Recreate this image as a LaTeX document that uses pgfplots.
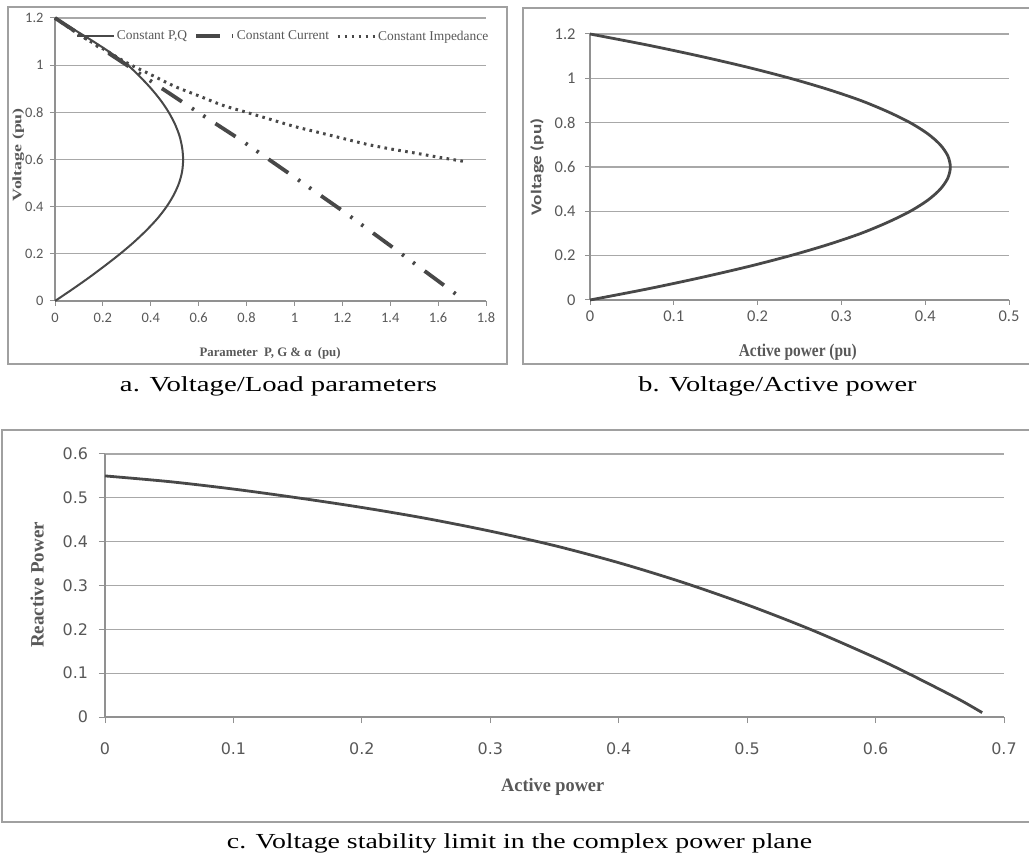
\documentclass[border=0pt]{standalone}
\usepackage{fontspec}
\setmainfont{Liberation Serif}
\newfontfamily\carlito{Carlito}
\newfontfamily\dejavu{DejaVu Sans}
\usepackage{graphicx}
\usepackage{pgfplots}
\pgfplotsset{compat=1.18}
\definecolor{curve}{RGB}{72,72,72}
\definecolor{gridc}{RGB}{168,168,168}
\definecolor{axisc}{RGB}{145,145,145}
\definecolor{tickc}{RGB}{88,88,88}
\definecolor{boxc}{RGB}{160,160,160}
\pgfplotsset{
  excel/.style={
    scale only axis,
    axis lines*=left,
    axis line style={axisc, line width=1.2bp},
    ymajorgrids,
    grid style={gridc, line width=1.3bp},
    major tick style={axisc, line width=1bp},
    tick align=outside,
    major tick length=5bp,
    /pgf/number format/assume math mode=true,
    clip=false,
  }
}
\begin{document}
\begin{tikzpicture}
\path[use as bounding box] (0,0) rectangle (1029bp,855bp);
% boxes
\draw[boxc, line width=1.3bp] (8bp,491bp) rectangle (507bp,848bp);
\draw[boxc, line width=1.3bp] (523bp,491bp) rectangle (1040bp,847bp);
\draw[boxc, line width=1.3bp] (2bp,33bp) rectangle (1040bp,425bp);

% ---------- panel a ----------
\begin{axis}[excel, at={(55bp,554bp)}, anchor=south west,
  width=431bp, height=283bp,
  xmin=0, xmax=1.8, ymin=0, ymax=1.2,
  xtick={0,0.2,0.4,0.6,0.8,1,1.2,1.4,1.6,1.8},
  ytick={0,0.2,0.4,0.6,0.8,1,1.2},
  tick label style={font=\carlito\fontsize{14.5}{16}\selectfont, text=tickc},
  yticklabel style={xshift=-3bp},
  xticklabel style={yshift=-3.5bp},
  label style={font=\bfseries\fontsize{13}{15}\selectfont, text=tickc},
  xlabel={\resizebox{141bp}{\height}{Parameter\ \ P, G \& α\ \ (pu)}},
  ylabel={\resizebox{93bp}{\height}{Voltage (pu)}},
  xlabel style={at={(axis description cs:0.499,-0.184)}, anchor=center},
  ylabel style={at={(axis description cs:-0.085,0.517)}, anchor=center},
  legend columns=3,
  legend style={draw=none, fill=none, at={(axis description cs:0.048,0.936)}, anchor=west,
    font=\fontsize{13.5}{14}\selectfont, text=tickc, inner sep=0pt,
    /tikz/every even column/.append style={column sep=5bp}},
  legend image code/.code={\draw[#1] (0bp,0bp) -- (37bp,0bp);},
]
\addplot[curve, line width=2bp, smooth] coordinates {
(0,0) (0.073,0.05) (0.143,0.1) (0.209,0.15) (0.272,0.2) (0.330,0.25) (0.382,0.3)
(0.428,0.35) (0.466,0.4) (0.496,0.45) (0.518,0.5) (0.531,0.55) (0.535,0.6)
(0.531,0.65) (0.52,0.7) (0.501,0.75) (0.475,0.8) (0.442,0.85) (0.402,0.9)
(0.356,0.95) (0.304,1.0) (0.236,1.05) (0.161,1.1) (0.081,1.15) (0,1.2)};
\addlegendentry{Constant P,Q}
\addplot[curve, line width=3.8bp, dash pattern=on 24bp off 12bp on 2.5bp off 11bp on 2.5bp off 12bp] coordinates {
(0,1.2) (0.3,1.0) (0.56,0.825) (0.78,0.68) (1.0,0.525) (1.2,0.383) (1.4,0.235) (1.68,0.025)};
\addlegendentry{Constant Current}
\addplot[curve, line width=3bp, dash pattern=on 2.6bp off 4.4bp, smooth] coordinates {
(0,1.2) (0.1,1.13) (0.2,1.07) (0.3,1.01) (0.4,0.96) (0.5,0.91) (0.6,0.87)
(0.7,0.83) (0.8,0.80) (0.9,0.77) (1.0,0.74) (1.1,0.715) (1.2,0.69) (1.3,0.665)
(1.4,0.645) (1.5,0.628) (1.6,0.61) (1.72,0.59)};
\addlegendentry{Constant Impedance}
\end{axis}

% ---------- panel b ----------
\begin{axis}[excel, at={(590bp,555bp)}, anchor=south west,
  width=419bp, height=266bp,
  xmin=0, xmax=0.5, ymin=0, ymax=1.2,
  xtick={0,0.1,0.2,0.3,0.4,0.5},
  ytick={0,0.2,0.4,0.6,0.8,1,1.2},
  tick label style={font=\carlito\fontsize{16.5}{18}\selectfont, text=tickc},
  yticklabel style={xshift=-6bp},
  xticklabel style={yshift=-2.5bp},
  xlabel={\resizebox{118bp}{\height}{\bfseries\fontsize{18}{20}\selectfont Active power (pu)}},
  ylabel={\resizebox{97bp}{\height}{\carlito\bfseries\fontsize{15}{17}\selectfont Voltage (pu)}},
  label style={text=tickc},
  xlabel style={at={(axis description cs:0.496,-0.195)}, anchor=center},
  ylabel style={at={(axis description cs:-0.126,0.5)}, anchor=center},
]
\addplot[curve, line width=2.8bp, smooth] coordinates {
(0,0) (0.0687,0.05) (0.131,0.1) (0.188,0.15) (0.239,0.2) (0.284,0.25) (0.323,0.3)
(0.355,0.35) (0.382,0.4) (0.403,0.45) (0.418,0.5) (0.427,0.55) (0.430,0.6)
(0.427,0.65) (0.418,0.7) (0.403,0.75) (0.382,0.8) (0.355,0.85) (0.323,0.9)
(0.284,0.95) (0.239,1.0) (0.188,1.05) (0.131,1.1) (0.0687,1.15) (0,1.2)};
\end{axis}

% ---------- panel c ----------
\begin{axis}[excel, at={(105bp,138bp)}, anchor=south west,
  width=899bp, height=263bp,
  xmin=0, xmax=0.7, ymin=0, ymax=0.6,
  xtick={0,0.1,0.2,0.3,0.4,0.5,0.6,0.7},
  ytick={0,0.1,0.2,0.3,0.4,0.5,0.6},
  major tick length=6bp,
  tick label style={font=\dejavu\fontsize{16}{18}\selectfont, text=tickc},
  yticklabel style={xshift=-7.5bp},
  xticklabel style={yshift=-16bp},
  label style={font=\bfseries\fontsize{19}{21}\selectfont, text=tickc},
  xlabel={\resizebox{103bp}{\height}{Active power}},
  ylabel={\resizebox{126bp}{\height}{Reactive Power}},
  xlabel style={at={(axis description cs:0.498,-0.266)}, anchor=center},
  ylabel style={at={(axis description cs:-0.0756,0.502)}, anchor=center},
]
\addplot[curve, line width=2.8bp, smooth] coordinates {
(0,0.55) (0.05,0.537) (0.1,0.52) (0.15,0.5) (0.2,0.478) (0.25,0.453)
(0.3,0.424) (0.35,0.391) (0.4,0.352) (0.45,0.307) (0.5,0.256) (0.55,0.199)
(0.6,0.135) (0.625,0.1) (0.65,0.063) (0.667,0.037) (0.683,0.01)};
\end{axis}

% captions
\node[anchor=base, font=\fontsize{21.5}{24}\selectfont] at (278.5bp,463bp) {\resizebox{317bp}{\height}{a. Voltage/Load parameters}};
\node[anchor=base, font=\fontsize{21.5}{24}\selectfont] at (777.5bp,463bp) {\resizebox{278bp}{\height}{b. Voltage/Active power}};
\node[anchor=base, font=\fontsize{21.5}{24}\selectfont] at (519.5bp,7bp) {\resizebox{585bp}{\height}{c. Voltage stability limit in the complex power plane}};
\end{tikzpicture}
\end{document}
